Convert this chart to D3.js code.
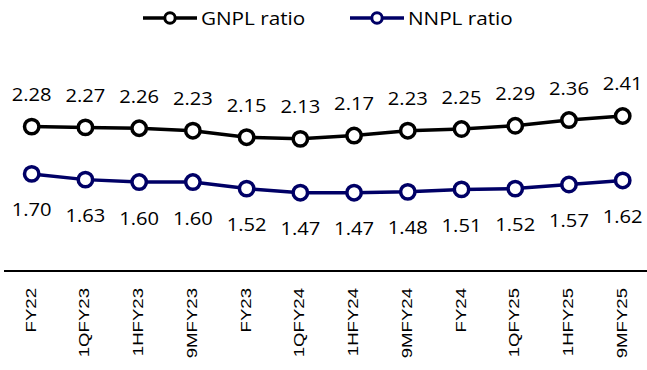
<!DOCTYPE html>
<html><head><meta charset="utf-8">
<script src="https://cdn.jsdelivr.net/npm/d3@7"></script>
<style>body{margin:0;background:#fff}svg{display:block}</style>
</head><body>
<svg id="chart" width="647" height="370"></svg>
<script>
const categories = ["FY22","1QFY23","1HFY23","9MFY23","FY23","1QFY24","1HFY24","9MFY24","FY24","1QFY25","1HFY25","9MFY25"];
const gnpl = [2.28,2.27,2.26,2.23,2.15,2.13,2.17,2.23,2.25,2.29,2.36,2.41];
const nnpl = [1.70,1.63,1.60,1.60,1.52,1.47,1.47,1.48,1.51,1.52,1.57,1.62];
const seriesNames = ["GNPL ratio","NNPL ratio"];
const colors = ["#000000","#000066"];

const svg = d3.select("#chart");
const x = d3.scalePoint().domain(categories).range([31.7, 622.7]);
const y = d3.scaleLinear().domain([0.51, 2.91]).range([271, 75.2]);

// axis line
svg.append("line").attr("x1",4).attr("x2",647).attr("y1",271).attr("y2",271)
  .attr("stroke","#000").attr("stroke-width",2);

// category labels
svg.selectAll("text.cat").data(categories).enter().append("text")
  .attr("class","cat")
  .attr("transform", d => `translate(${x(d)+4},288) rotate(-90) scale(1.2,1)`)
  .attr("text-anchor","end")
  .attr("font-family","'Liberation Sans', Arial, sans-serif")
  .attr("font-size",15.5).attr("fill","#000")
  .text(d => d);

const series = [
  {name: seriesNames[0], values: gnpl, color: colors[0], dy: -25.5},
  {name: seriesNames[1], values: nnpl, color: colors[1], dy: 42.5}
];

const line = d3.line().x((d,i)=>x(categories[i])).y(d=>y(d));

series.forEach(s => {
  const g = svg.append("g");
  g.append("path").datum(s.values).attr("d", line)
    .attr("fill","none").attr("stroke", s.color).attr("stroke-width",3.5);
  g.selectAll("circle").data(s.values).enter().append("circle")
    .attr("cx",(d,i)=>x(categories[i])).attr("cy",d=>y(d)).attr("r",7.2)
    .attr("fill","#fff").attr("stroke",s.color).attr("stroke-width",3.5);
  g.selectAll("text").data(s.values).enter().append("text")
    .attr("transform",(d,i)=>`translate(${x(categories[i])},${y(d)+s.dy}) scale(1.12,1)`)
    .attr("text-anchor","middle")
    .attr("font-family","'Open Sans', sans-serif").attr("font-size",18).attr("fill","#000")
    .text(d => d.toFixed(2));
});

// legend
const legend = [
  {name: seriesNames[0], color: colors[0], x1: 143, x2: 197},
  {name: seriesNames[1], color: colors[1], x1: 350, x2: 404}
];
legend.forEach(l => {
  svg.append("line").attr("x1",l.x1).attr("x2",l.x2).attr("y1",18).attr("y2",18)
    .attr("stroke",l.color).attr("stroke-width",3.5);
  svg.append("circle").attr("cx",(l.x1+l.x2)/2).attr("cy",18).attr("r",5.2)
    .attr("fill","#fff").attr("stroke",l.color).attr("stroke-width",3);
  svg.append("text").attr("transform",`translate(${l.x2+4},25) scale(1.15,1)`)
    .attr("font-family","'Open Sans', sans-serif").attr("font-size",18).attr("fill","#000")
    .text(l.name);
});
</script>
</body></html>
